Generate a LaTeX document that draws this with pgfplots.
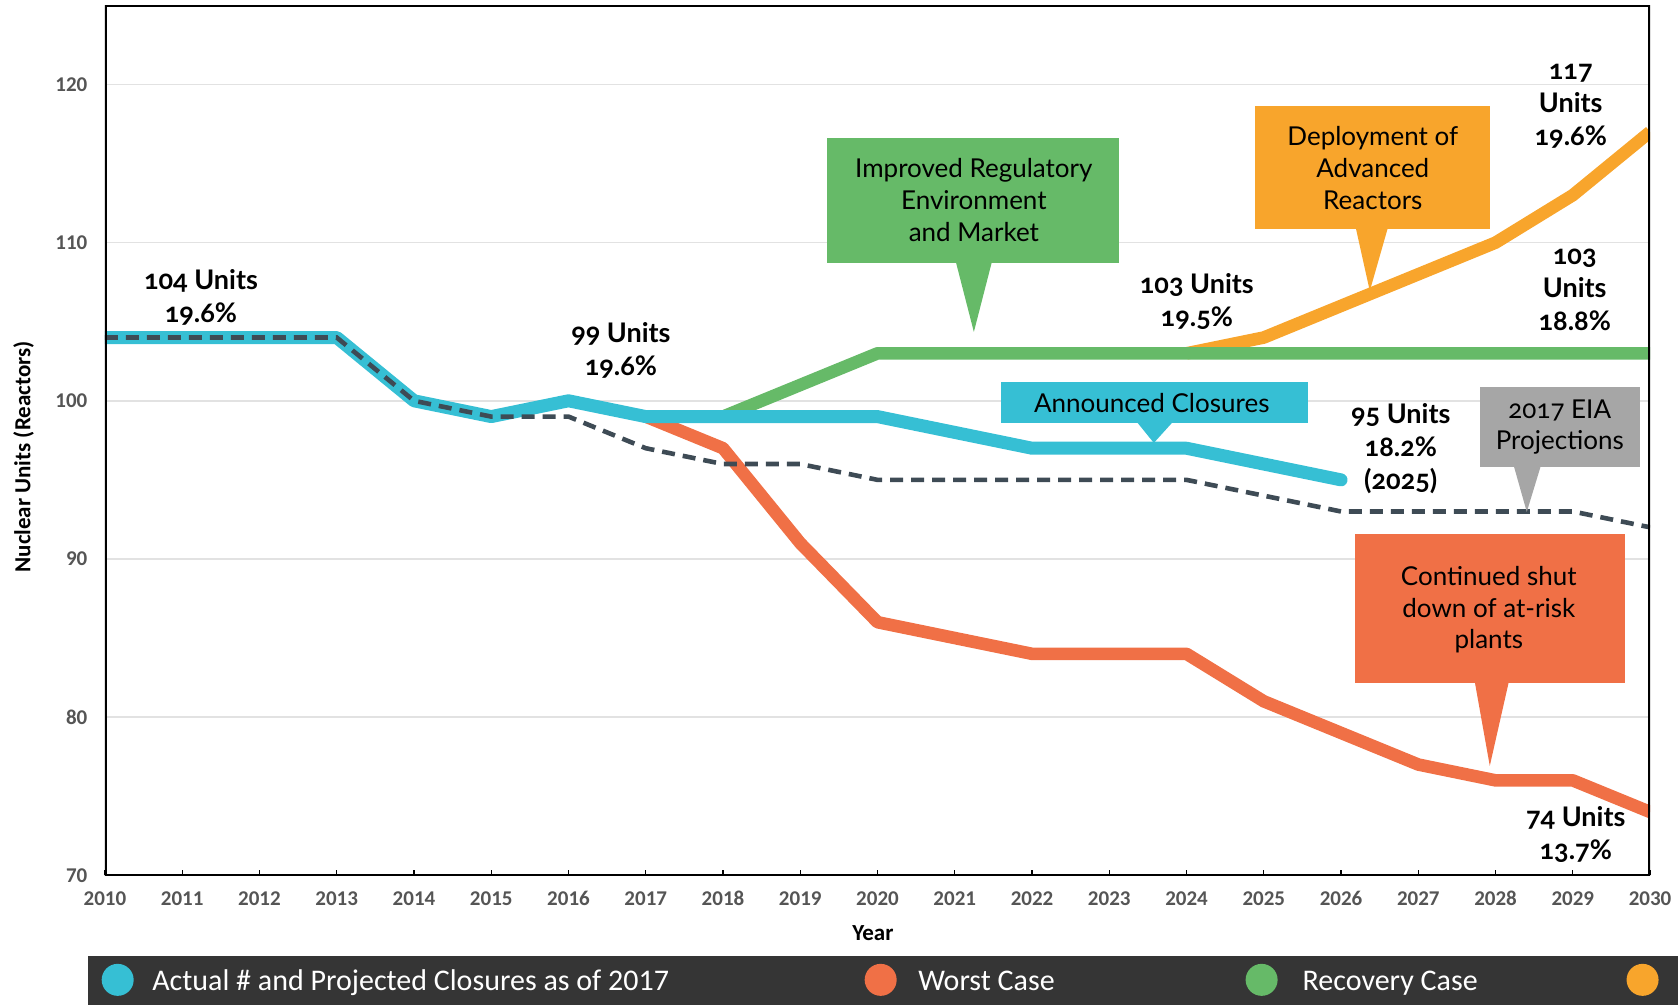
\documentclass[border=0pt]{standalone}
\usepackage{pgfplots}
\pgfplotsset{compat=1.18}
\usepackage{fontspec}
\setmainfont{Carlito}
\newfontfamily\annotfont[Numbers=OldStyle]{Lato}
\definecolor{cblue}{HTML}{36BFD4}
\definecolor{cred}{HTML}{F07046}
\definecolor{cgreen}{HTML}{66BA68}
\definecolor{corange}{HTML}{F8A52C}
\definecolor{cgreybox}{HTML}{A6A6A6}
\definecolor{cdash}{HTML}{3E4B55}
\definecolor{cbar}{HTML}{353535}
\definecolor{tickgrey}{HTML}{555555}
\definecolor{gridgrey}{HTML}{E2E2E2}
\begin{document}
\begin{tikzpicture}
\begin{scope}[shift={(-52.5pt,437.7pt)},x=0.5pt,y=-0.5pt]
\useasboundingbox (0,0) rectangle (1678,1005);
\end{scope}
\begin{axis}[
  at={(0,0)}, anchor=south west,
  width=772.65pt, height=435pt, scale only axis,
  xmin=2010, xmax=2030, ymin=70, ymax=125,
  xtick={2010,2011,...,2030}, ytick={70,80,...,120},
  /pgf/number format/assume math mode=true,
  /pgf/number format/1000 sep={},
  xticklabel style={font=\bfseries\fontsize{10.5}{12}\selectfont, text=tickgrey, text height=7pt, text depth=0pt, yshift=-4.8pt},
  yticklabel style={font=\bfseries\fontsize{10.5}{12}\selectfont, text=tickgrey, xshift=-5.3pt},
  axis line style={draw=none},
  ymajorgrids, grid style={line width=0.8pt, gridgrey},
  ytick style={draw=none},
  xtick pos=bottom, xtick align=inside,
  xtick style={line width=0.6pt, black},
  major tick length=2.8pt,
]
% Recovery with advanced reactors
\addplot[corange, line width=6.3pt, line join=round] coordinates {
 (2024,103) (2025,104) (2026,106) (2027,108) (2028,110) (2029,113) (2030,117)};
% Recovery case
\addplot[cgreen, line width=6.3pt, line join=round] coordinates {
 (2018,99) (2019,101) (2020,103) (2021,103) (2022,103) (2023,103) (2024,103)
 (2025,103) (2026,103) (2027,103) (2028,103) (2029,103) (2030,103)};
% Worst case
\addplot[cred, line width=6.3pt, line join=round] coordinates {
 (2017,99) (2018,97) (2019,91) (2020,86) (2021,85) (2022,84) (2023,84) (2024,84)
 (2025,81) (2026,79) (2027,77) (2028,76) (2029,76) (2030,74)};
% Actual and projected closures
\addplot[cblue, line width=6.5pt, line join=round, line cap=round] coordinates {
 (2010,104) (2011,104) (2012,104) (2013,104) (2014,100) (2015,99) (2016,100)
 (2017,99) (2018,99) (2019,99) (2020,99) (2021,98) (2022,97) (2023,97)
 (2024,97) (2025,96) (2026,95)};
% EIA projections
\addplot[cdash, line width=2.3pt, dash pattern=on 6.5pt off 4pt] coordinates {
 (2010,104) (2011,104) (2012,104) (2013,104) (2014,100) (2015,99) (2016,99)
 (2017,97) (2018,96) (2019,96) (2020,95) (2021,95) (2022,95) (2023,95)
 (2024,95) (2025,94) (2026,93) (2027,93) (2028,93) (2029,93) (2030,92)};
\draw[black, line width=1.6pt] (rel axis cs:0,0) rectangle (rel axis cs:1,1);
\end{axis}
\begin{scope}[shift={(-52.5pt,437.7pt)},x=0.5pt,y=-0.5pt]
% axis labels
\node[rotate=90, font=\bfseries\fontsize{11.5}{14}\selectfont] at (23.5,457) {Nuclear Units (Reactors)};
\node[font=\bfseries\fontsize{11.5}{14}\selectfont] at (873,933) {Year};
% callouts
\tikzset{call/.style={align=center, font=\annotfont\fontsize{13}{15.8}\selectfont}}
\fill[cgreen] (827,138) rectangle (1119,263);
\fill[cgreen] (956,262) -- (992,262) -- (974,332) -- cycle;
\node[call] at (974,200) {Improved Regulatory\\Environment\\and Market};
\fill[corange] (1255,106) rectangle (1490,229);
\fill[corange] (1356,228) -- (1388,228) -- (1370,291) -- cycle;
\node[call] at (1373,168) {Deployment of\\Advanced\\Reactors};
\fill[cblue] (1001,382) rectangle (1308,423);
\fill[cblue] (1137,422) -- (1173,422) -- (1154,443) -- cycle;
\node[call] at (1152,403) {Announced Closures};
\fill[cgreybox] (1480,387) rectangle (1640,467);
\fill[cgreybox] (1514,466) -- (1541,466) -- (1527,512) -- cycle;
\node[call] at (1560,427) {2017 EIA\\Projections};
\fill[cred] (1355,534) rectangle (1625,683);
\fill[cred] (1475,682) -- (1509,682) -- (1490,766) -- cycle;
\node[call] at (1489,610) {Continued shut\\down of at-risk\\plants};
% value annotations
\tikzset{ann/.style={align=center, font=\annotfont\bfseries\fontsize{13.5}{16.5}\selectfont}}
\node[ann] at (201,297) {104 Units\\19.6\%};
\node[ann] at (621,350) {99 Units\\19.6\%};
\node[ann] at (1197,302) {103 Units\\19.5\%};
\node[ann] at (1571,106) {117\\Units\\19.6\%};
\node[ann] at (1575,290) {103\\Units\\18.8\%};
\node[ann] at (1401,449) {95 Units\\18.2\%\\(2025)};
\node[ann] at (1576,835) {74 Units\\13.7\%};
% legend bar
\tikzset{leg/.style={anchor=base west, text=white, inner sep=0pt, font=\fontsize{15}{18}\selectfont}}
\fill[cbar] (88,956) rectangle (1678,1005);
\fill[cblue] (117.7,980) circle (16);
\node[leg] at (152,991) {Actual \# and Projected Closures as of 2017};
\fill[cred] (880.8,980) circle (16);
\node[leg] at (918,991) {Worst Case};
\fill[cgreen] (1261.8,980) circle (16);
\node[leg] at (1302.5,991) {Recovery Case};
\fill[corange] (1642.8,980) circle (16);
\end{scope}
\end{tikzpicture}
\end{document}
